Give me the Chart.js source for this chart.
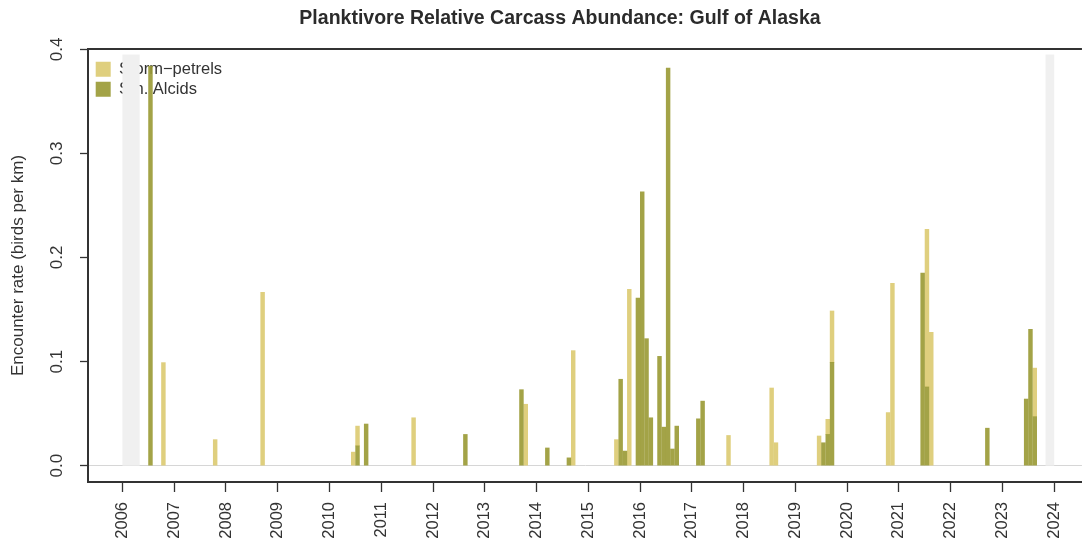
<!DOCTYPE html>
<html>
<head>
<meta charset="utf-8">
<script src="https://cdn.jsdelivr.net/npm/chart.js@4.4.1/dist/chart.umd.min.js"></script>
<style>
html,body{margin:0;padding:0;background:#fff;overflow:hidden;}
#wrap{width:1084px;height:541px;position:relative;}
</style>
</head>
<body>
<div id="wrap"><canvas id="c"></canvas></div>
<script>
// ---- data ----
const months = ['2006-07','2006-10','2007-10','2008-09','2010-06','2010-07','2010-09','2011-08','2012-08','2013-09','2013-10','2014-03','2014-08','2014-09','2015-07','2015-08','2015-09','2015-10','2015-12','2016-01','2016-02','2016-03','2016-05','2016-06','2016-07','2016-08','2016-09','2017-02','2017-03','2017-09','2018-07','2018-08','2019-06','2019-07','2019-08','2019-09','2020-10','2020-11','2021-06','2021-07','2021-08','2022-09','2023-06','2023-07','2023-08'];
const smAlcids = [0.384,null,null,null,null,0.019,0.040,null,0.030,0.073,null,0.017,0.0075,null,null,0.083,0.014,null,0.161,0.263,0.122,0.046,0.105,0.037,0.382,0.016,0.038,0.045,0.062,null,null,null,null,0.022,0.030,0.0993,null,null,0.185,0.0756,null,0.036,0.064,0.131,0.047];
// storm-petrel segment stacked on top of the alcids
const stormPetrels = [null,0.099,0.025,0.1666,0.013,0.019,null,0.046,null,null,0.059,null,null,0.1105,0.025,null,null,0.1695,null,null,null,null,null,null,null,null,null,null,null,0.029,0.0746,0.022,0.0285,null,0.0145,0.0493,0.051,0.1752,null,0.1515,0.128,null,null,null,0.0467];
const yearTicks = [2006,2007,2008,2009,2010,2011,2012,2013,2014,2015,2016,2017,2018,2019,2020,2021,2022,2023,2024];
const yTicks = [0,0.1,0.2,0.3,0.4];
const shadeStart = [2006.0, 2023.833];
const shadeEnd = [2006.333, 2024.0];
const shadeTop = 0.395;

const seriesNames = ['Sm. Alcids','Storm\u2212petrels'];
const seriesColors = ['rgba(153,153,51,0.9)','rgba(221,204,119,0.95)'];

function monthPos(s){ const p = s.split('-').map(Number); return p[0] + (p[1]-0.5)/12; }
function toPoints(vals){ return months.map((m,i)=>({x:monthPos(m), y:vals[i]})).filter(p=>p.y!==null); }

Chart.defaults.font.family = "'Liberation Sans', Arial, Helvetica, sans-serif";
Chart.defaults.color = '#333';

const shadePlugin = {
  id:'shade',
  beforeDatasetsDraw(chart){
    const {ctx, scales:{x,y}, chartArea} = chart;
    ctx.save();
    ctx.beginPath(); ctx.rect(chartArea.left, chartArea.top, chartArea.right-chartArea.left, chartArea.bottom-chartArea.top); ctx.clip();
    ctx.fillStyle = '#f0f0f0';
    shadeStart.forEach((s,i)=>{
      const x0 = x.getPixelForValue(s), x1 = x.getPixelForValue(shadeEnd[i]);
      const y0 = y.getPixelForValue(shadeTop), y1 = y.getPixelForValue(0);
      ctx.fillRect(x0, y0, x1-x0, y1-y0);
    });
    ctx.restore();
  },
  afterDraw(chart){
    const {ctx, chartArea} = chart;
    ctx.save();
    ctx.strokeStyle = '#333'; ctx.lineWidth = 2;
    ctx.beginPath(); ctx.moveTo(chartArea.left-1, chartArea.top); ctx.lineTo(chartArea.right, chartArea.top); ctx.stroke();
    ctx.restore();
  },
  afterLayout(chart){
    const ca = chart.chartArea;
    if (chart.legend){ chart.legend.left = ca.left + 4.2; chart.legend.top = ca.top + 8.4; chart.legend.bottom = ca.bottom; }
    if (chart.titleBlock){ chart.titleBlock.left += 36; }
  }
};

new Chart(document.getElementById('c'), {
  type:'bar',
  data:{
    datasets:[
      {label:seriesNames[0], data:toPoints(smAlcids), backgroundColor:seriesColors[0], borderWidth:0, barThickness:3.8},
      {label:seriesNames[1], data:toPoints(stormPetrels), backgroundColor:seriesColors[1], borderWidth:0, barThickness:3.8}
    ]
  },
  plugins:[shadePlugin],
  options:{
    responsive:true, maintainAspectRatio:false, animation:false, events:[],
    layout:{padding:0},
    plugins:{
      title:{display:true, text:'Planktivore Relative Carcass Abundance: Gulf of Alaska', color:'#2b2b2b',
        font:{size:19.5, weight:'bold'}, padding:{top:7, bottom:18.6}},
      legend:{display:true, position:'chartArea', align:'start', reverse:true,
        labels:{boxWidth:15, boxHeight:15, padding:3.5, color:'#333', font:{size:16.5}}},
      tooltip:{enabled:false}
    },
    scales:{
      x:{type:'linear', min:2005.335, max:2024.536, stacked:true, offset:false,
        afterBuildTicks:s=>{ s.ticks = yearTicks.map(v=>({value:v})); },
        afterFit:s=>{ s.height = 59; },
        ticks:{minRotation:90, maxRotation:90, padding:10, color:'#333', font:{size:16.5}, callback:v=>String(v)},
        grid:{offset:false, drawOnChartArea:false, drawTicks:true, tickLength:10, tickColor:'#333', tickWidth:1.3},
        border:{display:true, color:'#333', width:2}
      },
      y:{min:-0.0157, max:0.4003, stacked:true,
        afterBuildTicks:s=>{ s.ticks = yTicks.map(v=>({value:v})); },
        afterFit:s=>{ s.width = 88; },
        ticks:{minRotation:90, maxRotation:90, crossAlign:'center', padding:11, color:'#333', font:{size:17}, callback:v=>v.toFixed(1)},
        grid:{color:c=>(c.tick && c.tick.value===0) ? '#d6d6d6' : 'rgba(0,0,0,0)', lineWidth:1, drawTicks:true, tickLength:8, tickColor:'#333', tickWidth:1.3},
        border:{display:true, color:'#333', width:2},
        title:{display:true, text:'Encounter rate (birds per km)', color:'#333', font:{size:17}, padding:{top:8, bottom:0}}
      }
    }
  }
});
</script>
</body>
</html>
